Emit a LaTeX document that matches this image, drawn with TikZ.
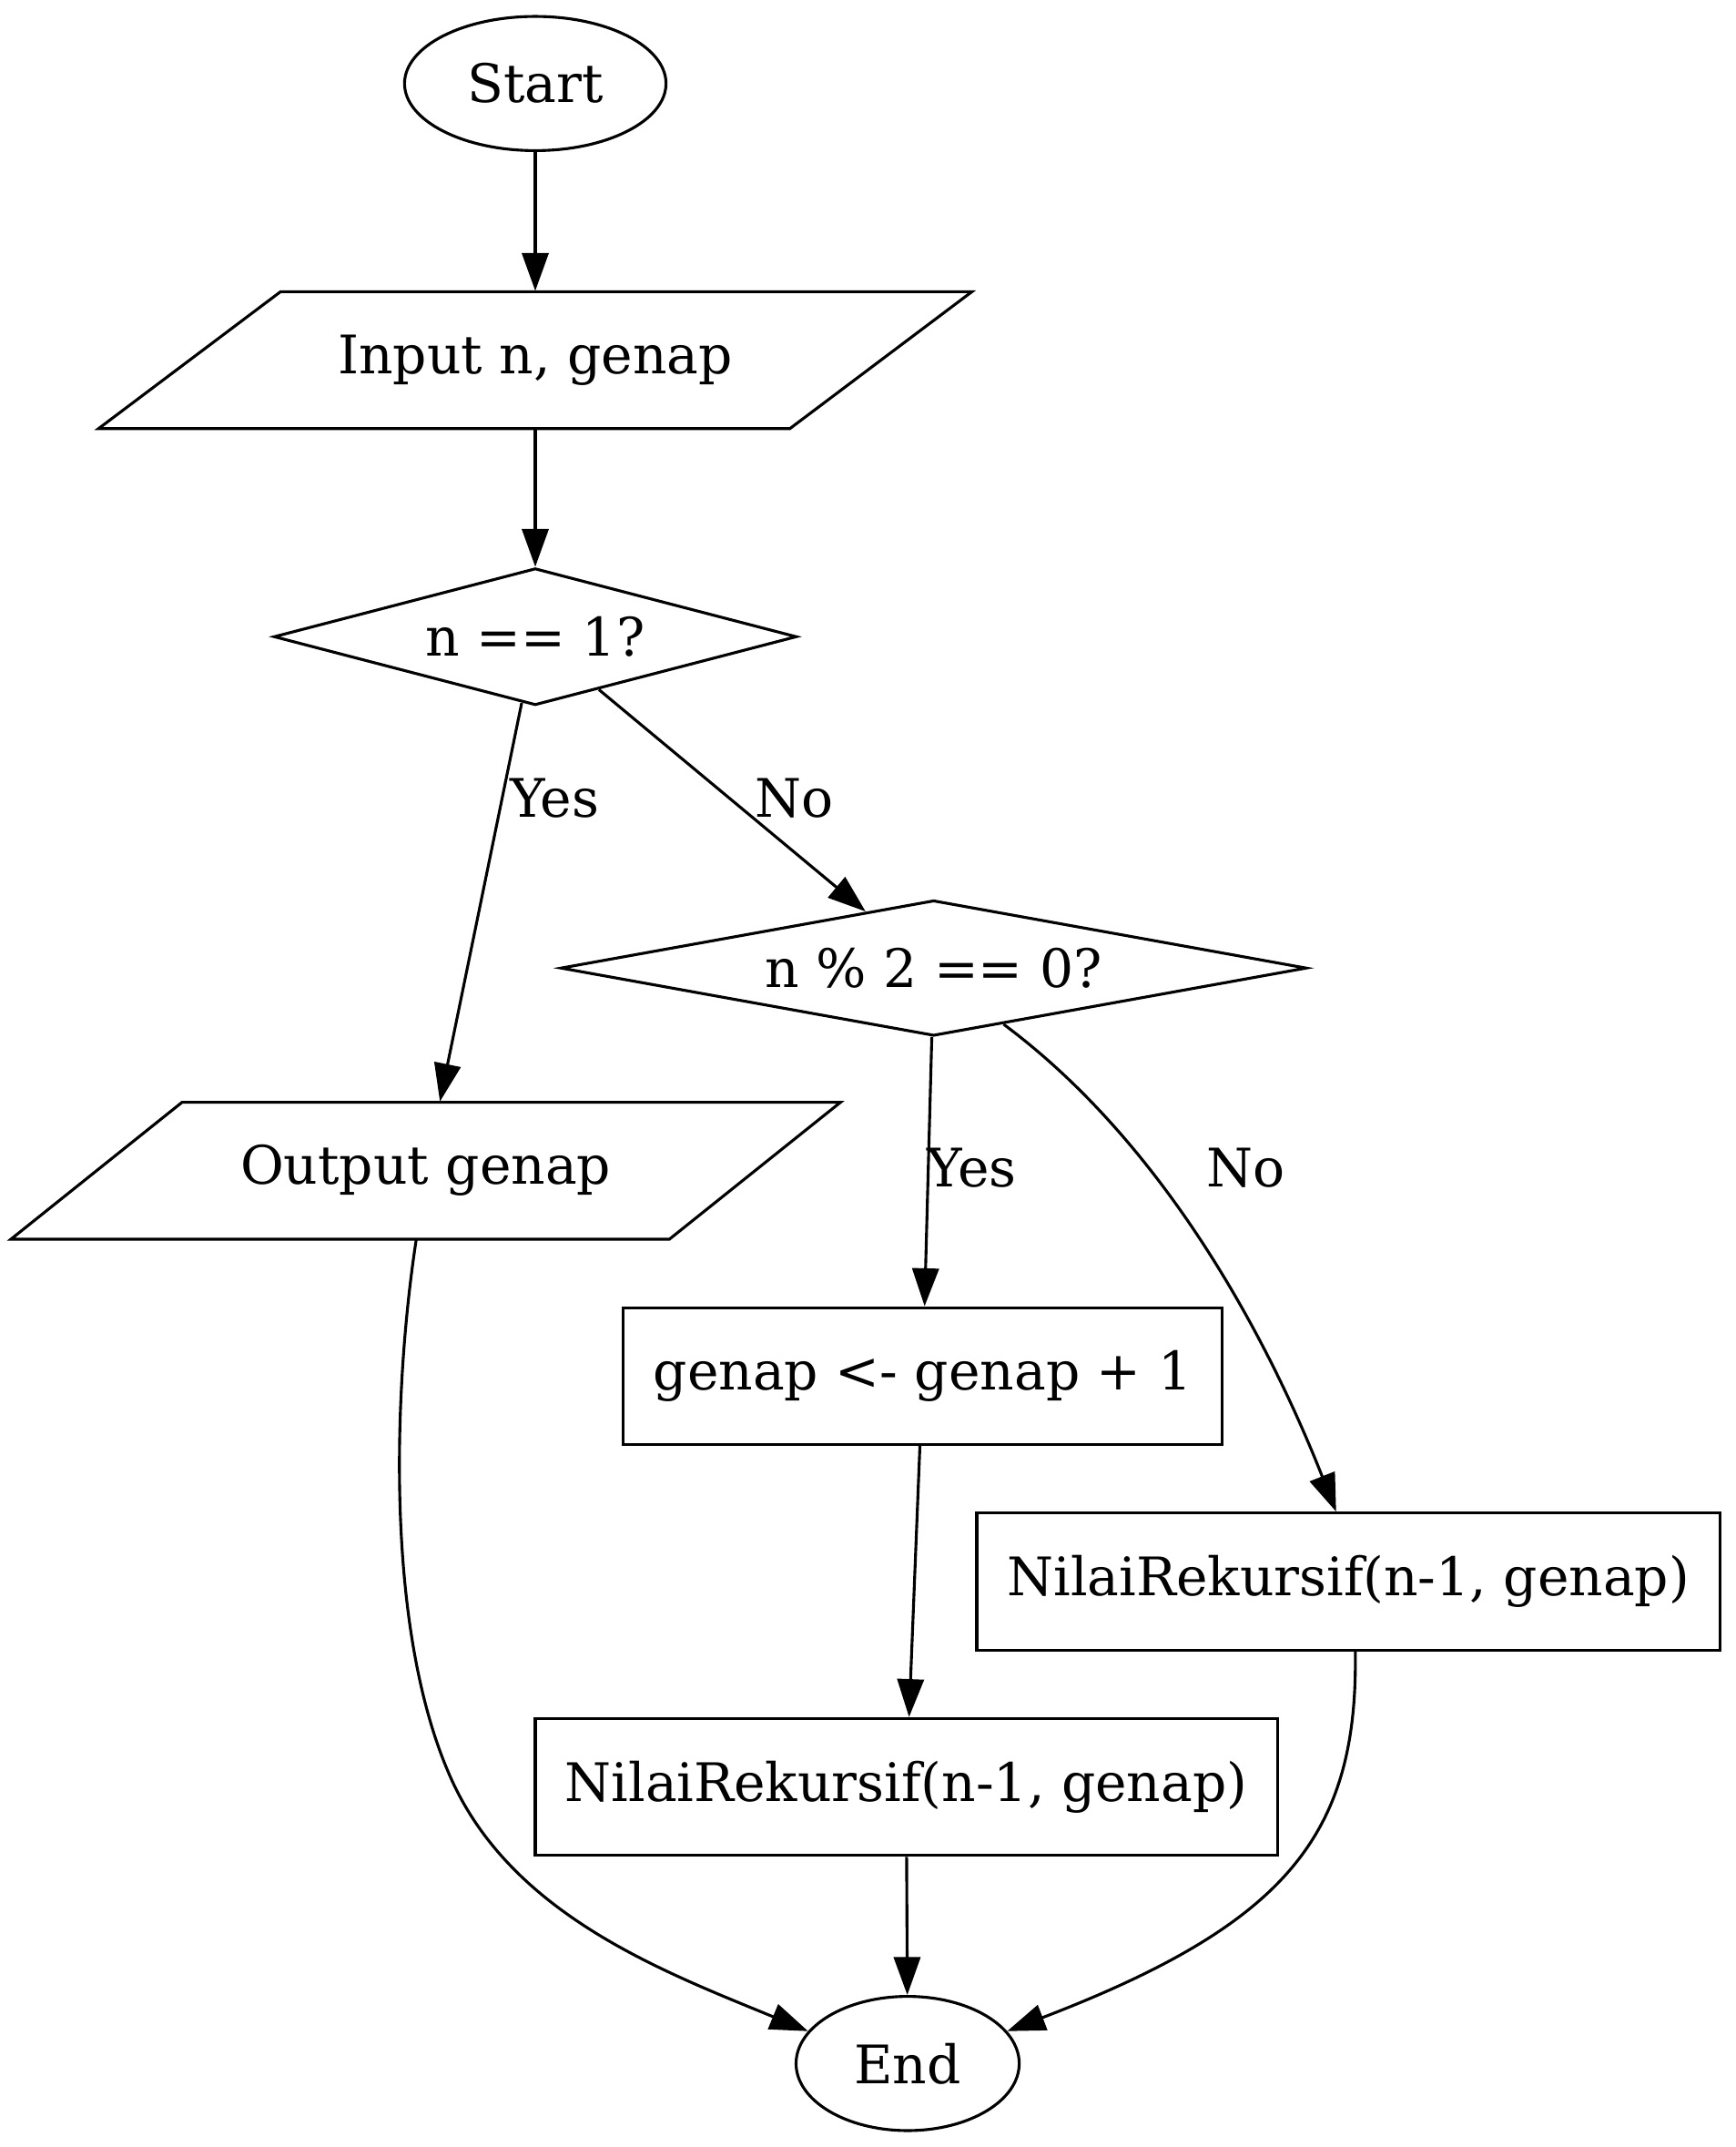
\documentclass[tikz,border=0pt]{standalone}
\usepackage{fontspec}
\setmainfont{DejaVu Serif}
\usetikzlibrary{shapes.geometric,arrows.meta,calc}
\newcommand\pxu{0.361pt}
\begin{document}
\begin{tikzpicture}[x=0.361pt,y=-0.361pt,
  every node/.style={font=\fontsize{14pt}{17pt}\selectfont, inner sep=0pt},
  base/.style={draw, line width=0.75pt},
  term/.style={base, ellipse},
  io/.style={rectangle},
  dec/.style={base, diamond},
  proc/.style={base, rectangle},
  edge/.style={line width=0.75pt, -{Triangle[length=10pt,width=7pt]}},
  lbl/.style={}
]
\useasboundingbox (0,0) rectangle (1268,1568);

\node[term, minimum width={191*\pxu}, minimum height={98*\pxu}] (start) at (391,61) {Start};
\node[io, minimum width={505*\pxu}, minimum height={100*\pxu}] (in) at (391,263) {Input n, genap};
\draw[base, line join=miter] ($(in.center)+(-186,-50)$) -- ($(in.center)+(319,-50)$) -- ($(in.center)+(186,50)$) -- ($(in.center)+(-319,50)$) -- cycle;
\node[dec, aspect=3.82, minimum width={382*\pxu}, minimum height={100*\pxu}] (q1) at (391,465) {n == 1?};
\node[dec, aspect=5.5, minimum width={545*\pxu}, minimum height={99*\pxu}] (q2) at (682,707) {n \% 2 == 0?};
\node[io, minimum width={481*\pxu}, minimum height={100*\pxu}] (out) at (311,855) {Output genap};
\draw[base, line join=miter] ($(out.center)+(-178,-50)$) -- ($(out.center)+(303,-50)$) -- ($(out.center)+(178,50)$) -- ($(out.center)+(-303,50)$) -- cycle;
\node[proc, minimum width={438*\pxu}, minimum height={100*\pxu}] (inc) at (674,1005) {genap <- genap + 1};
\node[proc, minimum width={543*\pxu}, minimum height={100*\pxu}] (nr1) at (985,1155) {NilaiRekursif(n-1, genap)};
\node[proc, minimum width={542*\pxu}, minimum height={100*\pxu}] (nr2) at (662,1305) {NilaiRekursif(n-1, genap)};
\node[term, minimum width={163*\pxu}, minimum height={98*\pxu}] (end) at (663,1507) {End};

\draw[edge] (start) -- (in);
\draw[edge] (in) -- (q1);
\draw[edge] (q1) -- (out);
\draw[edge] (q1) -- (q2);
\draw[edge] (q2) -- (inc);
\draw[edge] ($(q2.south)!0.187!(q2.east)$) .. controls (850,835) and (925,975) .. ($(nr1.north)+(-9,0)$);
\draw[edge] (inc) -- (nr2);
\draw[edge] (nr2) -- (end);
\draw[edge] ($(out.south)+(-7,0)$) .. controls (288,1010) and (280,1190) .. (330,1300) .. controls (375,1399) and (485,1440) .. (end.162);
\draw[edge] ($(nr1.south)+(5,0)$) .. controls (992,1340) and (940,1405) .. (end.18);

\node[lbl] (l1) at (405,583) {Yes};
\node[lbl] (l2) at (580,583) {No};
\node[lbl] (l3) at (710,853) {Yes};
\node[lbl] (l4) at (910,853) {No};
\end{tikzpicture}
\end{document}
